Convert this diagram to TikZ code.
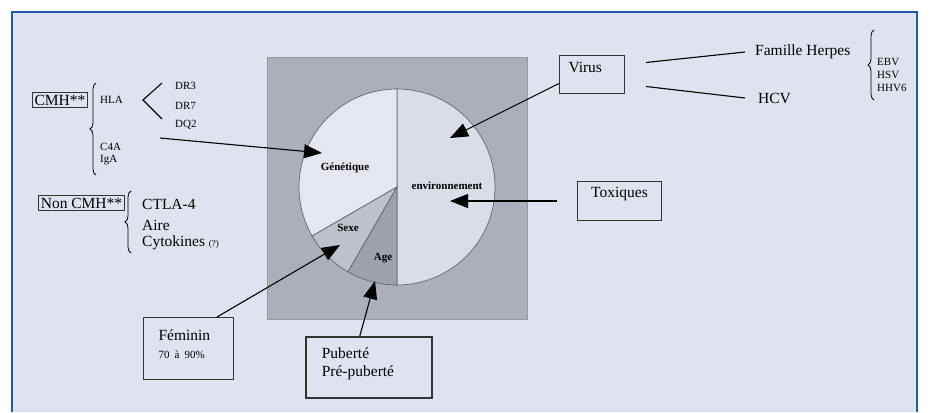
\documentclass[tikz,border=0pt]{standalone}
\usepackage{fontspec}
\setmainfont{Liberation Serif}
\usepackage{tikz}
\usetikzlibrary{arrows.meta,decorations.pathreplacing}

\definecolor{fond}{HTML}{DFE3EF}
\definecolor{cadre}{HTML}{1F5CA8}
\definecolor{carre}{HTML}{ABAFBA}
\definecolor{partgen}{HTML}{E4E7F0}
\definecolor{partenv}{HTML}{D9DDE8}
\definecolor{partsex}{HTML}{BDC1CB}
\definecolor{partage}{HTML}{9DA1AC}
\newcommand{\grand}{\fontsize{15.5}{18}\selectfont}
\newcommand{\petit}{\fontsize{11}{13}\selectfont}
\newcommand{\mini}{\fontsize{9}{11}\selectfont}
\tikzset{
	boite/.style={draw=black!80, line width=1pt, fill=fond, anchor=north west, inner ysep=0pt},
	texte/.style={inner sep=0pt, anchor=west},
	fleche/.style={-{Triangle[length=18pt,width=14pt]}, line width=1.1pt},
	trait/.style={line width=1.1pt},
	accolade/.style={decorate, decoration={brace, amplitude=6pt}, line width=0.8pt},
}

\begin{document}
\begin{tikzpicture}[x=1pt, y=-1pt]
	\useasboundingbox (0,0) rectangle (931,412);
	\fill[white] (0,0) rectangle (931,412);
	\fill[fond] (12,12) rectangle (917,412);
	\draw[cadre, line width=2pt] (12,412) -- (12,12) -- (917,12) -- (917,412);
	\filldraw[fill=carre, draw=black!40] (267,57) rectangle (527,319);

	\coordinate (centre) at (397,187);
	\foreach \debut/\fin/\coul in {90/-90/partenv, -90/-210/partgen, -210/-240/partsex, -240/-270/partage} {
		\filldraw[fill=\coul, draw=black!60, line width=0.7pt] (centre) -- ++(\debut:98) arc[start angle=\debut, end angle=\fin, radius=98] -- cycle;
	}
	\node[font=\petit\bfseries] (gen) at (345,168) {Génétique};
	\node[font=\petit\bfseries] (env) at (447,186) {environnement};
	\node[font=\petit\bfseries] (sexe) at (348,228) {Sexe};
	\node[font=\petit\bfseries] (age) at (383,258) {Age};

	\coordinate (pointevir) at (450,138);
	\coordinate (pointetox) at (450,201);
	\coordinate (pointegen) at (322,153);
	\coordinate (pointesexe) at (340,245);
	\coordinate (pointeage) at (375,281);

	% cote gauche
	\node[draw=black!80, line width=1pt, font=\grand, inner sep=2pt] (cmh) at (60,100) {CMH**};
	\draw[accolade] (96,175) -- (96,83);
	\node[texte, font=\petit] (hla) at (100,100) {HLA};
	\node[texte, font=\petit] (c4a) at (100,147) {C4A};
	\node[texte, font=\petit] (iga) at (100,160) {IgA};
	\foreach \nom/\y in {DR3/86, DR7/106, DQ2/125} {
		\node[texte, font=\petit] (\nom) at (175,\y) {\nom};
	}
	\coordinate (bifurc) at (143,100);
	\draw[trait] ([xshift=-13pt, yshift=3pt]DR3.west) -- (bifurc) -- ([xshift=-13pt, yshift=6pt]DQ2.west);
	\coordinate (departgen) at (160,138);
	\draw[fleche] (departgen) -- (pointegen);

	\node[draw=black!80, line width=1pt, font=\grand, inner sep=2pt] (noncmh) at (81.5,203) {Non CMH**};
	\draw[accolade] (131,253) -- (131,191);
	\node[texte, font=\grand] (ctla) at (142,204) {CTLA-4};
	\node[texte, font=\grand] (aire) at (142,225) {Aire};
	\node[texte, font=\grand] (cyto) at (142,243) {Cytokines {\mini (?)}};

	% bas
	\node[boite, font=\grand, text width=60pt, inner xsep=15pt, align=left, text height=23pt, text depth=39pt] (fem) at (143,317) {Féminin\\\petit 70 à 90\%};
	\draw[fleche] ([xshift=-17pt]fem.north east) -- (pointesexe);
	\node[boite, font=\grand, line width=1.6pt, text width=94pt, inner xsep=16pt, align=left, text height=22pt, text depth=39pt] (pub) at (305,336) {Puberté\\Pré-puberté};
	\draw[fleche] ([xshift=-9pt]pub.north) -- (pointeage);

	% cote droit
	\node[boite, font=\grand, text width=47pt, inner xsep=9pt, align=left, text height=17pt, text depth=21pt] (virus) at (559,55) {Virus};
	\draw[fleche] ([yshift=-9pt]virus.west) -- (pointevir);
	\node[texte, font=\grand] (herpes) at (755,52) {Famille Herpes};
	\node[texte, font=\grand] (hcv) at (758,98) {HCV};
	\draw[trait] ([xshift=21pt, yshift=12pt]virus.east) -- ([xshift=-10pt]herpes.west);
	\draw[trait] ([xshift=21pt, yshift=-12pt]virus.east) -- ([xshift=-13pt]hcv.west);
	\draw[accolade] (874,100) -- (874,30);
	\foreach \nom/\y in {EBV/62, HSV/75, HHV6/88} {
		\node[texte, font=\petit] (\nom) at (877,\y) {\nom};
	}

	\node[boite, font=\grand, text width=62pt, inner xsep=11pt, align=center, text height=16pt, text depth=23pt] (tox) at (577,181) {Toxiques};
	\draw[fleche] ([xshift=-20pt]tox.west) -- (pointetox);
\end{tikzpicture}
\end{document}
